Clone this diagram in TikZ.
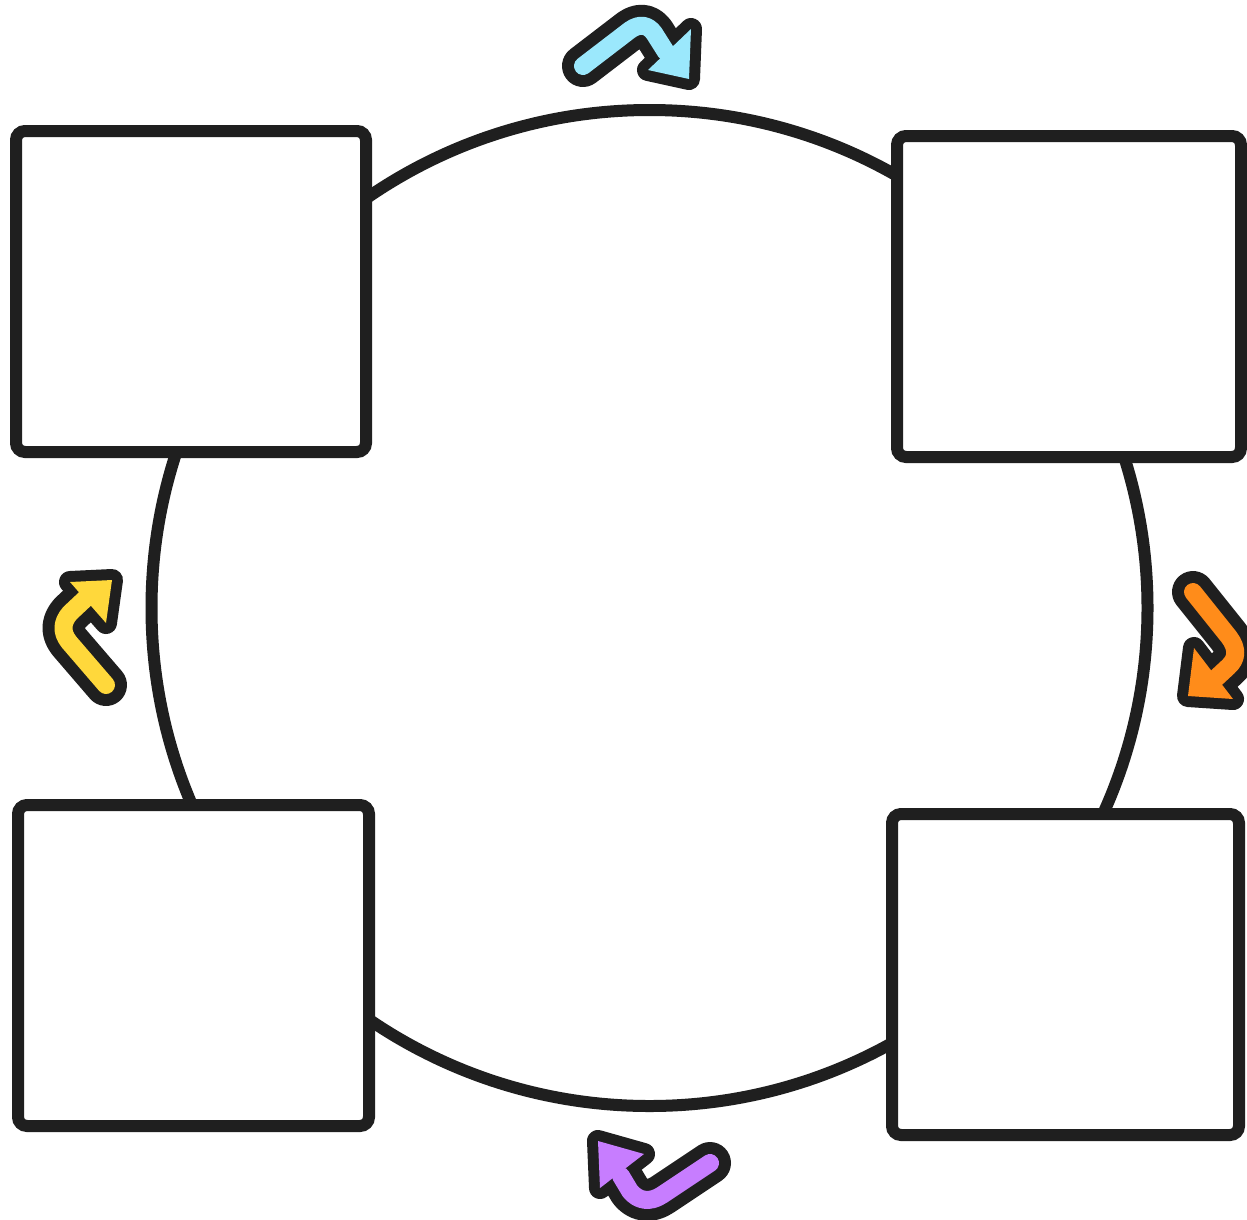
\documentclass[tikz,border=0pt]{standalone}
\usetikzlibrary{shapes.geometric}
\definecolor{ink}{HTML}{1F1F1F}
\definecolor{cyanA}{HTML}{9BE8FC}
\definecolor{yellowA}{HTML}{FFD83B}
\definecolor{orangeA}{HTML}{FF8C1A}
\definecolor{purpleA}{HTML}{C77DFF}
\newcommand\fancyarr[3]{%
  \draw[ink, line width=42pt, line cap=round, line join=round] #2;
  \filldraw[ink, line width=22pt, line join=round] #3 -- cycle;
  \draw[#1, line width=18pt, line cap=round, line join=round] #2;
  \fill[#1] #3 -- cycle;
}
\begin{document}
\begin{tikzpicture}[x=1pt,y=-1pt,
  panel/.style={draw=ink, fill=white, line width=12pt, rounded corners=9pt, inner sep=0pt, rectangle, minimum height=321pt}]
\useasboundingbox (0,0) rectangle (1247,1219);
\fill[white] (0,0) rectangle (1247,1219);
\node[circle, draw=ink, line width=12pt, minimum size=996pt, inner sep=0pt] (ring) at (649.5,608) {};
\node[panel, minimum width=350pt] (tl) at (191,291.5) {};
\node[panel, minimum width=344pt] (tr) at (1069,296.5) {};
\node[panel, minimum width=351pt] (bl) at (193.5,965.5) {};
\node[panel, minimum width=347pt] (br) at (1065.5,974.5) {};
% top arrow (cyan)
\fancyarr{cyanA}{(583,66) -- (630,30) .. controls (640,23) and (648,25) .. (654,33) -- (666,52)}{(691,29) -- (689,79) -- (648,70)}
% left arrow (yellow)
\fancyarr{yellowA}{(106,685) -- (69,642) .. controls (61,632) and (62,622) .. (70,613) -- (86,598)}{(112,580) -- (70,582) -- (106,623)}
% right arrow (orange)
\fancyarr{orangeA}{(1193,592) -- (1229,637) .. controls (1238,649) and (1237,659) .. (1228,667) -- (1214,680)}{(1194,648) -- (1188,696) -- (1233,699)}
% bottom arrow (purple)
\fancyarr{purpleA}{(710,1163) -- (662,1195) .. controls (650,1203) and (638,1201) .. (630,1191) -- (621,1176)}{(598,1141) -- (644,1154) -- (600,1188)}
\end{tikzpicture}
\end{document}
